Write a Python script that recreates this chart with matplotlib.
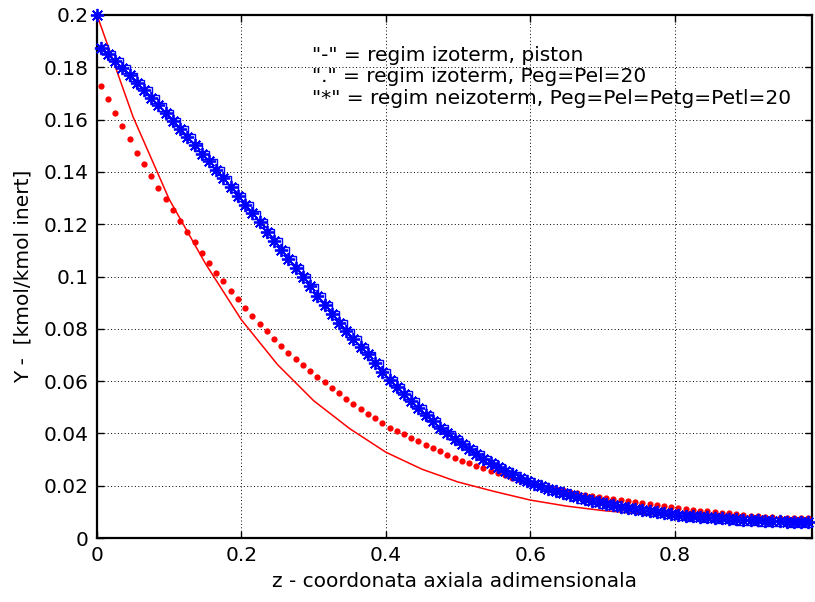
import matplotlib
matplotlib.use("Agg")
import matplotlib.pyplot as plt
import matplotlib.transforms as mtransforms
import numpy as np

plt.rcParams['font.family'] = ['DejaVu Sans']

# Red solid line: regim izoterm, piston
piston_z = [0, 0.05, 0.10, 0.15, 0.20, 0.25, 0.30, 0.35, 0.40, 0.45, 0.50,
            0.55, 0.60, 0.65, 0.70, 0.75, 0.80, 0.85, 0.90, 0.95, 0.99]
piston_Y = [0.200, 0.161, 0.1295, 0.105, 0.0834, 0.0663, 0.0525, 0.0418, 0.0328,
            0.0263, 0.0214, 0.0178, 0.0145, 0.0122, 0.0105, 0.0093, 0.0083,
            0.0075, 0.0069, 0.0064, 0.0061]

# Red dots: regim izoterm, Peg=Pel=20 (cell centres)
disp_z = [round(0.005 + 0.01 * k, 3) for k in range(99)]
disp_Y = [0.1729, 0.1678, 0.1627, 0.1576, 0.1525, 0.1474, 0.1429, 0.1384, 0.1340, 0.1295,
          0.1254, 0.1213, 0.1172, 0.1131, 0.1091, 0.1053, 0.1015, 0.0983, 0.0945, 0.0913,
          0.0881, 0.0849, 0.0817, 0.0792, 0.0760, 0.0734, 0.0709, 0.0685, 0.0662, 0.0639,
          0.0617, 0.0595, 0.0574, 0.0553, 0.0533, 0.0513, 0.0494, 0.0475, 0.0457, 0.0439,
          0.0422, 0.0409, 0.0397, 0.0384, 0.0372, 0.0356, 0.0345, 0.0333, 0.0317, 0.0305,
          0.0294, 0.0286, 0.0275, 0.0267, 0.0256, 0.0248, 0.0241, 0.0230, 0.0222, 0.0215,
          0.0209, 0.0201, 0.0195, 0.0189, 0.0183, 0.0177, 0.0171, 0.0166, 0.0161, 0.0157,
          0.0152, 0.0148, 0.0145, 0.0141, 0.0138, 0.0134, 0.0130, 0.0126, 0.0122, 0.0118,
          0.0114, 0.0111, 0.0108, 0.0105, 0.0102, 0.0099, 0.0097, 0.0094, 0.0091, 0.0088,
          0.0085, 0.0083, 0.0081, 0.0080, 0.0078, 0.0077, 0.0076, 0.0075, 0.0075]

# Blue asterisks: regim neizoterm, Peg=Pel=Petg=Petl=20
neiz_z = [0.0] + [round(0.005 + 0.01 * k, 3) for k in range(99)]
neiz_Y = [0.2000,
          0.1875, 0.1851, 0.1824, 0.1797, 0.1769, 0.1741, 0.1712, 0.1683, 0.1654, 0.1624,
          0.1594, 0.1563, 0.1532, 0.1501, 0.1470, 0.1440, 0.1408, 0.1375, 0.1342, 0.1309,
          0.1275, 0.1241, 0.1207, 0.1172, 0.1137, 0.1102, 0.1067, 0.1032, 0.0997, 0.0962,
          0.0927, 0.0892, 0.0857, 0.0823, 0.0790, 0.0760, 0.0732, 0.0702, 0.0668, 0.0636,
          0.0606, 0.0578, 0.0551, 0.0524, 0.0497, 0.0471, 0.0446, 0.0422, 0.0400, 0.0380,
          0.0361, 0.0341, 0.0322, 0.0304, 0.0287, 0.0272, 0.0258, 0.0243, 0.0229, 0.0218,
          0.0208, 0.0198, 0.0189, 0.0180, 0.0171, 0.0163, 0.0155, 0.0148, 0.0142, 0.0136,
          0.0130, 0.0125, 0.0120, 0.0115, 0.0111, 0.0107, 0.0103, 0.0099, 0.0095, 0.0091,
          0.0088, 0.0085, 0.0083, 0.0081, 0.0079, 0.0077, 0.0075, 0.0073, 0.0071, 0.0070,
          0.0068, 0.0067, 0.0066, 0.0065, 0.0064, 0.0063, 0.0063, 0.0062, 0.0062]

x_ticks = [0, 0.2, 0.4, 0.6, 0.8]
x_ticklabels = ["0", "0.2", "0.4", "0.6", "0.8"]
y_ticks = [0, 0.02, 0.04, 0.06, 0.08, 0.10, 0.12, 0.14, 0.16, 0.18, 0.20]
y_ticklabels = ["0", "0.02", "0.04", "0.06", "0.08", "0.1", "0.12", "0.14", "0.16", "0.18", "0.2"]

notes = ['"-" = regim izoterm, piston',
         '"." = regim izoterm, Peg=Pel=20',
         '"*" = regim neizoterm, Peg=Pel=Petg=Petl=20']

FS = 14.5

fig = plt.figure(figsize=(8.15, 6.02), dpi=100)
ax = fig.add_axes([97 / 815, 1 - 538 / 602, (812 - 97) / 815, (538 - 15) / 602])

ax.plot(piston_z, piston_Y, color='red', lw=1.1, zorder=3)
ax.plot(disp_z, disp_Y, linestyle='none', marker='o', ms=4.5, mfc='red', mec='none', zorder=4)

# square outlines slightly offset behind the asterisks
sq_tr = mtransforms.offset_copy(ax.transData, fig=fig, x=2.6, y=-0.8, units='points')
ax.plot(neiz_z[1:], neiz_Y[1:], linestyle='none', marker='s', ms=6, mfc='none',
        mec='blue', mew=1.0, transform=sq_tr, zorder=4)
ax.plot(neiz_z, neiz_Y, linestyle='none', marker=(8, 2, 0), ms=9.5, mec='blue',
        mew=1.3, color='blue', zorder=5, clip_on=False)

ax.set_xlim(0, 0.99)
ax.set_ylim(0, 0.2)
ax.set_xticks(x_ticks)
ax.set_xticklabels(x_ticklabels)
ax.set_yticks(y_ticks)
ax.set_yticklabels(y_ticklabels)
ax.grid(True, color='black', linestyle=(0, (1, 2.5)), linewidth=0.7)
ax.tick_params(direction='in', length=5, width=1.0, labelsize=FS, top=True, right=True,
               pad=6, colors='black')
for s in ax.spines.values():
    s.set_linewidth(1.6)

for i, t in enumerate(notes):
    ax.text(0.298, 0.1847 - i * 0.0083, t, fontsize=FS, va='center', ha='left', zorder=6)

ax.set_xlabel("z - coordonata axiala adimensionala", fontsize=FS, labelpad=5)
ax.set_ylabel("Y -  [kmol/kmol inert]", fontsize=FS, labelpad=8)

fig.savefig("out.png", dpi=100)
